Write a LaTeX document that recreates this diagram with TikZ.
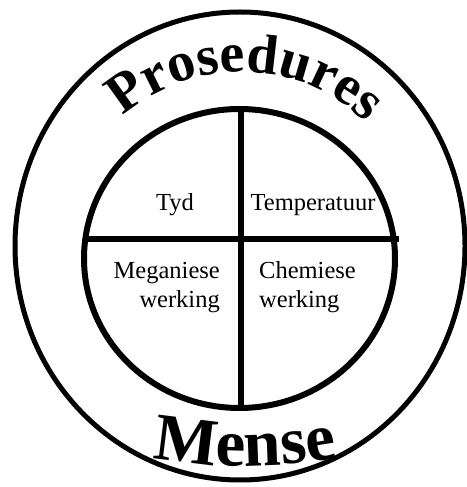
\documentclass[tikz,border=0pt]{standalone}
\usepackage{fontspec}
\setmainfont{Liberation Serif}
\usetikzlibrary{decorations.text}
\tikzset{
  ring/.style={draw=black, line width=5pt},
  inring/.style={draw=black, line width=6pt},
  divider/.style={draw=black, line width=6.5pt},
  lbl/.style={inner sep=0pt, font=\fontsize{24.5}{28}\selectfont}
}
\begin{document}
\begin{tikzpicture}[x=1pt,y=1pt]
\useasboundingbox (0,0) rectangle (466,487);
% circles
\path[ring] (240,241) ellipse [x radius=225, y radius=234];
\path[inring] (239.5,228.5) ellipse [x radius=155.5, y radius=149.5];
% dividers
\coordinate (hl) at (86,248);
\coordinate (hr) at (399,248);
\coordinate (vt) at (241,380);
\coordinate (vb) at (241,80);
\draw[divider] (hl) -- (hr);
\draw[divider] (vt) -- (vb);
% quadrant labels
\node[lbl, anchor=base] (tyd) at (175,276) {Tyd};
\node[lbl, anchor=base] (temp) at (313,276) {Temperatuur};
\node[lbl, anchor=base east] (meg1) at (220,208) {Meganiese};
\node[lbl, anchor=base east] (meg2) at (220,179.5) {werking};
\node[lbl, anchor=base west] (che1) at (259,208) {Chemiese};
\node[lbl, anchor=base west] (che2) at (259,179.5) {werking};
% curved titles
\path[decorate, decoration={text along path, text align=center,
  text={|\bfseries\fontsize{56}{56}\selectfont|Prosedures}}]
  (241,235) ++(168:180) arc[start angle=168, end angle=9, radius=180];
\path[decorate, decoration={text along path, text align=center,
  text={|\bfseries\fontsize{67}{67}\selectfont|Mense}}]
  (245,521) ++(250:500) arc[start angle=250, end angle=290, radius=500];
\end{tikzpicture}
\end{document}
